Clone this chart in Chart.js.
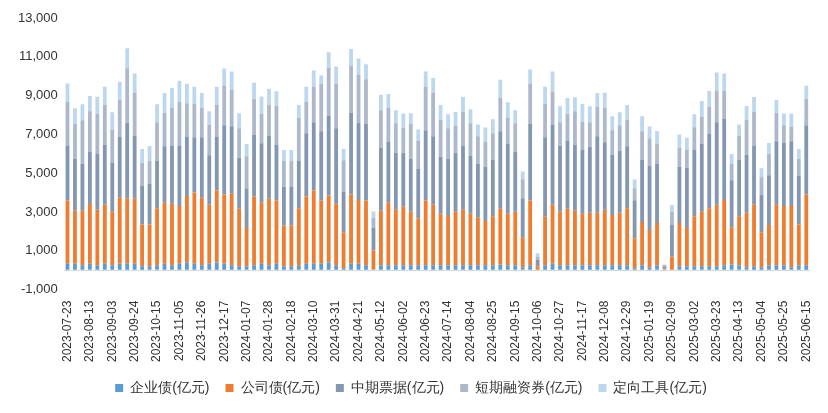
<!DOCTYPE html>
<html><head><meta charset="utf-8">
<script src="https://cdn.jsdelivr.net/npm/chart.js@4"></script>
<style>html,body{margin:0;background:#fff}#w{width:828px;height:413px}</style>
</head><body><div id="w"><canvas id="c"></canvas></div>
<script>
const startDate = '2023-07-23';
const weekCount = 100;
const corpBond = [330,330,250,330,250,330,250,330,330,330,200,200,250,330,250,330,400,330,250,330,400,330,250,200,200,250,330,250,330,200,200,250,330,330,330,400,250,100,330,330,250,50,250,250,250,250,250,250,250,250,250,250,250,250,250,250,250,250,300,250,250,150,250,0,250,330,250,250,250,250,250,250,250,250,250,250,100,250,150,250,50,30,200,200,200,200,200,200,250,300,250,150,200,150,250,250,250,150,250,250];
const companyBond = [3260,2730,2810,3080,2870,3050,2760,3400,3360,3360,2160,2160,2950,3150,3180,2980,3430,3680,3480,3050,3710,3570,3690,2970,1970,3550,3150,3440,3260,2110,2110,2950,3470,3780,3260,3450,3180,1860,3570,3290,3340,970,2810,3230,2870,3020,2760,2430,3340,3130,2660,2550,2760,2870,2660,2450,2290,2530,2870,2660,2760,1550,3340,210,2500,3050,2760,2920,2810,2660,2710,2710,2870,2600,2710,2950,1550,2240,1920,2180,50,670,2230,1970,2580,2810,3000,3180,3370,1920,2530,2810,3180,1810,2080,3130,3060,3160,2110,3650];
const mtn = [2840,2680,2430,2710,2890,3100,2540,3130,3900,3260,2010,2080,2450,2910,2990,3120,3030,2840,3120,2540,2780,3570,3480,2630,2010,3200,3060,3260,2890,2010,2010,2450,3260,3520,3570,4100,3890,2100,4220,3970,3940,1160,3260,3150,2940,2780,2730,2540,3620,3520,2940,2940,3050,3310,2990,2800,2780,2910,3990,3620,3100,2010,3940,320,4100,4100,3410,3520,3410,3310,3410,3940,3470,3100,3200,3190,1960,3220,3310,3050,100,1630,2890,3100,3430,3520,3850,4250,4170,2420,2910,2990,3050,1940,2570,3270,3270,3340,2490,3570];
const cp = [2240,1790,2240,2070,2050,2050,1700,1930,2820,2190,1160,1190,1980,1720,1940,2240,1750,1720,1520,1560,1630,2050,1890,1520,1700,1840,1510,1580,2000,1310,1310,2190,1610,1840,2470,2470,2290,1610,2400,2500,2310,530,1930,1730,1520,1310,1790,1470,2260,2240,1890,1580,1370,1730,1680,1400,1310,1370,1730,1310,1470,980,2100,180,1730,1730,1210,1370,1730,1420,1260,1520,1790,1260,1310,1350,610,1450,1420,1050,60,680,1000,950,1160,1370,1370,1630,1470,840,1260,1790,1730,890,1100,1450,890,750,890,1370];
const directional = [950,820,820,790,880,930,890,930,1030,1000,720,770,930,1030,1030,1100,1000,890,770,720,930,880,930,770,630,820,910,820,750,560,560,670,790,820,400,820,890,580,880,820,770,320,790,720,670,720,560,560,770,770,770,720,720,770,720,610,720,720,930,820,670,400,720,160,880,1030,820,820,720,930,820,720,770,720,670,770,460,770,610,650,40,350,670,610,670,820,820,930,880,510,560,720,770,460,560,670,610,680,510,670];
const seriesNames = ['企业债(亿元)','公司债(亿元)','中期票据(亿元)','短期融资券(亿元)','定向工具(亿元)'];
const yTicks = [-1000,1000,3000,5000,7000,9000,11000,13000];

const labels = [];
{ const d = new Date(startDate + 'T00:00:00Z');
  for (let i = 0; i < weekCount; i++) { const t = new Date(d.getTime() + i*7*86400000); labels.push(t.toISOString().slice(0,10)); } }

const colors = ['#5B9BD5','#ED7D31','#8497B0','#ADB9CA','#BDD7EE'];
const vals = [corpBond, companyBond, mtn, cp, directional];
new Chart(document.getElementById('c'), {
  type: 'bar',
  data: { labels, datasets: vals.map((v,i)=>({label: seriesNames[i], data: v, backgroundColor: colors[i], borderWidth: 0, categoryPercentage: 0.85, barPercentage: 0.6})) },
  options: {
    responsive: true, maintainAspectRatio: false, animation: false,
    layout: { padding: { left: 12, right: 18, top: 18, bottom: 8 } },
    plugins: {
      tooltip: { enabled: false },
      legend: { position: 'bottom', labels: { boxWidth: 8, boxHeight: 8, font: { family: 'Liberation Sans, Arial', size: 14 }, color: '#333', padding: 16 } }
    },
    scales: {
      x: { stacked: true, grid: { display: false }, border: { display: false },
        ticks: { autoSkip: false, maxRotation: 90, minRotation: 90, color: '#333', font: { family: 'Liberation Sans, Arial', size: 12 },
          callback: (v, i) => i % 3 === 0 ? labels[i] : '' } },
      y: { stacked: true, min: -1000, max: 13000, border: { display: false },
        grid: { drawTicks: false, color: c => c.tick && c.tick.value === 0 ? '#d9d9d9' : 'rgba(0,0,0,0)' },
        afterBuildTicks: s => { s.ticks = [-1000,0,1000,3000,5000,7000,9000,11000,13000].map(v => ({ value: v })); },
        ticks: { padding: 6, color: '#333', font: { family: 'Liberation Sans, Arial', size: 13 }, callback: v => yTicks.includes(v) ? v.toLocaleString('en-US') : '' } }
    }
  }
});
</script></body></html>
